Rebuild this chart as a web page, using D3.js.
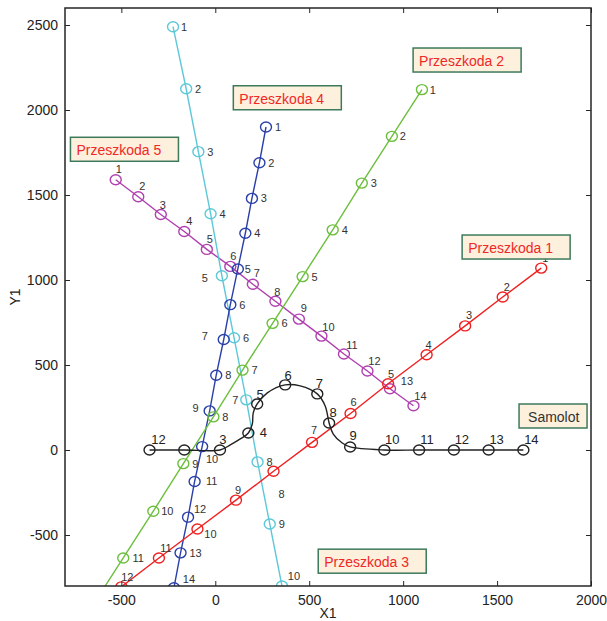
<!DOCTYPE html>
<html>
<head>
<meta charset="utf-8">
<script src="https://cdn.jsdelivr.net/npm/d3@7/dist/d3.min.js"></script>
<style>
  body { margin: 0; background: #fff; }
  text { font-family: Arial, "Liberation Sans", sans-serif; }
</style>
</head>
<body>
<div id="chart"></div>
<script>
// axis ticks
const xTicks = [-500, 0, 500, 1000, 1500, 2000];
const yTicks = [-500, 0, 500, 1000, 1500, 2000, 2500];

// Samolot (aircraft) - marked points
const samolotX = [-350, -165, 25, 176, 223, 372, 543, 606, 718, 900, 1085, 1270, 1455, 1640];
const samolotY = [0, 0, 0, 100, 271, 383, 330, 159, 18, 0, 0, 0, 0, 0];
const samolotLabels = ["12", "", "3", "4", "5", "6", "7", "8", "9", "10", "11", "12", "13", "14"];
// Samolot trajectory
const samolotPathX = [-350, -165, 25, 80, 133, 176, 197, 202, 223, 277, 372, 452, 543, 585, 606, 628, 676, 718, 900, 1085, 1270, 1455, 1640];
const samolotPathY = [0, 0, 0, 30, 65, 100, 153, 218, 271, 336, 383, 377, 330, 259, 159, 94, 41, 18, 0, 0, 0, 0, 0];

// obstacles
const p1X = [1735, 1530, 1330, 1125, 920, 720, 515, 310, 110, -95, -300, -500];
const p1Y = [1070, 900, 730, 560, 390, 215, 45, -125, -295, -465, -635, -805];

const p2X = [1100, 940, 780, 625, 465, 305, 145, -10, -170, -330, -490, -650];
const p2Y = [2120, 1845, 1570, 1295, 1020, 745, 470, 195, -80, -360, -635, -910];

const p3X = [-225, -155, -90, -25, 35, 100, 165, 225, 290, 355];
const p3Y = [2490, 2125, 1755, 1390, 1025, 660, 295, -70, -435, -800];

const p4X = [270, 235, 195, 160, 120, 80, 45, 5, -30, -70, -110, -145, -185, -220];
const p4Y = [1900, 1690, 1480, 1275, 1065, 855, 650, 440, 230, 20, -185, -395, -605, -810];

const p5X = [-530, -410, -290, -165, -45, 80, 200, 320, 445, 565, 685, 810, 930, 1055];
const p5Y = [1590, 1490, 1385, 1285, 1180, 1080, 975, 875, 770, 670, 565, 465, 360, 260];

// text boxes: label, left x, centre y (data units)
const boxNames = ["Przeszkoda 5", "Przeszkoda 4", "Przeszkoda 2", "Przeszkoda 1", "Przeszkoda 3", "Samolot"];
const boxX = [-771, 96, 1053, 1314, 548, 1617];
const boxY = [1769, 2072, 2294, 1194, -654, 200];

// ---- layout ----
const W = 607, H = 621;
const L = 65, R = 591, T = 8, B = 586;

// label offsets (px, centre of text relative to marker)
const offP1 = [[4,-10],[4,-10],[4,-11],[2,-10],[3,-10],[3,-11],[2,-12],[8,23],[2,-10],[13,5],[7,-10],[6,-10]];
const offP2 = [[11,0],[11,0],[12,0],[12,0],[12,0],[12,0],[12,0],[12,0],[12,0],[14,0],[15,0],[15,0]];
const offP3 = [[11,0],[12,0],[12,0],[12,0],[-17,2],[12,0],[-11,0],[12,0],[12,0],[12,-10]];
const offP4 = [[12,0],[12,0],[12,0],[12,0],[10,0],[12,0],[-19,-4],[12,0],[-14,-3],[10,12],[17,0],[12,-8],[15,0],[15,-9]];
const offP5 = [[3,-11],[4,-11],[2,-10],[5,-11],[3,-10],[3,-10],[4,-11],[2,-9],[5,-11],[7,-9],[8,-9],[7,-10],[17,-8],[7,-10]];
const offS  = [[9,-11],[0,0],[3,-11],[15,-1],[3,-9],[3,-9],[2,-10],[4,-10],[3,-11],[8,-11],[8,-11],[8,-11],[8,-11],[8,-11]];

const x = d3.scaleLinear().domain([-800, 2000]).range([L, R]);
const y = d3.scaleLinear().domain([-800, 2600]).range([B, T]);

const svg = d3.select("#chart").append("svg")
  .attr("width", W).attr("height", H);

svg.append("defs").append("clipPath").attr("id", "clip")
  .append("rect").attr("x", L).attr("y", T).attr("width", R - L).attr("height", B - T);

const plot = svg.append("g").attr("clip-path", "url(#clip)");

let series = [
  { xs: p5X, ys: p5Y, color: "#b040b0", off: offP5 },
  { xs: p3X, ys: p3Y, color: "#5cc8d8", off: offP3 },
  { xs: p4X, ys: p4Y, color: "#2a3fa8", off: offP4 },
  { xs: p2X, ys: p2Y, color: "#6cbf3c", off: offP2 },
  { xs: p1X, ys: p1Y, color: "#f02020", off: offP1 }
];

let line = d3.line().x(d => x(d[0])).y(d => y(d[1]));

series.forEach(s => {
  let pts = s.xs.map((v, i) => [v, s.ys[i]]);
  plot.append("path").attr("d", line(pts))
    .attr("fill", "none").attr("stroke", s.color).attr("stroke-width", 1.4);
  plot.selectAll(null).data(pts).enter().append("ellipse")
    .attr("cx", d => x(d[0])).attr("cy", d => y(d[1]))
    .attr("rx", 5.5).attr("ry", 5)
    .attr("fill", "none").attr("stroke", s.color).attr("stroke-width", 1.4);
});

// samolot
let sPath = samolotPathX.map((v, i) => [v, samolotPathY[i]]);
plot.append("path")
  .attr("d", d3.line().x(d => x(d[0])).y(d => y(d[1])).curve(d3.curveCatmullRom.alpha(0.5))(sPath))
  .attr("fill", "none").attr("stroke", "#222").attr("stroke-width", 1.4);
let sPts = samolotX.map((v, i) => [v, samolotY[i]]);
plot.selectAll(null).data(sPts).enter().append("ellipse")
  .attr("cx", d => x(d[0])).attr("cy", d => y(d[1]))
  .attr("rx", 5.5).attr("ry", 5)
  .attr("fill", "none").attr("stroke", "#222").attr("stroke-width", 1.4);

// point labels (only for points inside the axes)
const inside = v => v >= y.domain()[0] - 20;
series.forEach(s => {
  let idx = d3.range(s.xs.length).filter(i => inside(s.ys[i]));
  plot.selectAll(null).data(idx).enter().append("text")
    .attr("x", i => x(s.xs[i]) + s.off[i][0])
    .attr("y", i => y(s.ys[i]) + s.off[i][1])
    .attr("text-anchor", "middle").attr("dominant-baseline", "central")
    .attr("font-size", 11).attr("fill", "#333")
    .text(i => i + 1);
});
plot.selectAll(null).data(samolotX).enter().append("text")
  .attr("x", (d, i) => x(d) + offS[i][0])
  .attr("y", (d, i) => y(samolotY[i]) + offS[i][1])
  .attr("text-anchor", "middle").attr("dominant-baseline", "central")
  .attr("font-size", 13).attr("fill", "#222")
  .text((d, i) => samolotLabels[i]);

// axes box with inward ticks
const axColor = "#262626";
const fmt = d => String(d);
let gx = svg.append("g").attr("transform", `translate(0,${B})`)
  .call(d3.axisBottom(x).tickValues(xTicks).tickSize(-5).tickPadding(9).tickFormat(fmt));
let gxt = svg.append("g").attr("transform", `translate(0,${T})`)
  .call(d3.axisTop(x).tickValues(xTicks).tickSize(-5).tickFormat(""));
let gy = svg.append("g").attr("transform", `translate(${L},0)`)
  .call(d3.axisLeft(y).tickValues(yTicks).tickSize(-5).tickPadding(7).tickFormat(fmt));
let gyr = svg.append("g").attr("transform", `translate(${R},0)`)
  .call(d3.axisRight(y).tickValues(yTicks).tickSize(-5).tickFormat(""));
[gx, gxt, gy, gyr].forEach(g => {
  g.select(".domain").remove();
  g.selectAll("line").attr("stroke", axColor).attr("stroke-width", 1);
  g.selectAll("text").attr("font-size", 14).attr("fill", "#222")
    .attr("font-family", "Arial, 'Liberation Sans', sans-serif");
});
svg.append("rect").attr("x", L).attr("y", T).attr("width", R - L).attr("height", B - T)
  .attr("fill", "none").attr("stroke", axColor).attr("stroke-width", 1.5);

svg.append("text").attr("x", (L + R) / 2).attr("y", 613)
  .attr("text-anchor", "middle").attr("dominant-baseline", "central")
  .attr("font-size", 14).attr("fill", "#222").text("X1");
svg.append("text")
  .attr("transform", `translate(15,${(T + B) / 2}) rotate(-90)`)
  .attr("text-anchor", "middle").attr("dominant-baseline", "central")
  .attr("font-size", 14).attr("fill", "#222").text("Y1");

// annotation boxes
boxNames.forEach((name, i) => {
  let isPlane = name === "Samolot";
  let bw = isPlane ? 68 : 108, bh = 24;
  let bx = x(boxX[i]), by = y(boxY[i]) - bh / 2;
  svg.append("rect").attr("x", bx).attr("y", by).attr("width", bw).attr("height", bh)
    .attr("fill", "#fdf0dc").attr("stroke", "#3d7a5c").attr("stroke-width", 1.5);
  svg.append("text").attr("x", bx + (isPlane ? 9 : 6)).attr("y", by + bh / 2 + 1)
    .attr("dominant-baseline", "central")
    .attr("font-size", 14).attr("fill", isPlane ? "#333" : "#f02828")
    .text(name);
});
</script>
</body>
</html>
